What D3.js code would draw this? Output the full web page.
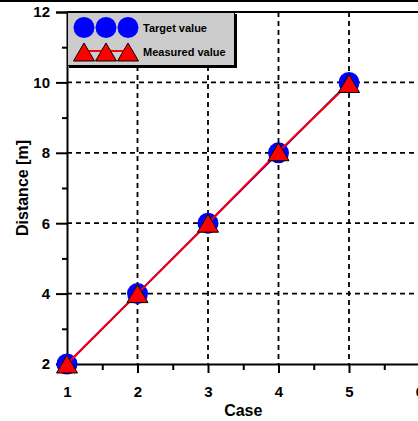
<!DOCTYPE html>
<html>
<head>
<meta charset="utf-8">
<script src="https://cdn.jsdelivr.net/npm/d3@7"></script>
<style>
  body { margin: 0; background: #fff; }
  svg { display: block; }
  text { font-family: "Liberation Sans", Arial, sans-serif; font-weight: bold; }
</style>
</head>
<body>
<div id="chart"></div>
<script>
const cases = [1, 2, 3, 4, 5];
const target = [2, 4, 6, 8, 10];
const measured = [2, 4, 6, 8.03, 9.97];
const xTicks = [1, 2, 3, 4, 5, 6];
const xMinor = [1.5, 2.5, 3.5, 4.5, 5.5];
const yTicks = [2, 4, 6, 8, 10, 12];
const yMinor = [3, 5, 7, 9, 11];
const legendItems = ['Target value', 'Measured value'];

const width = 418, height = 421;
const plot = { left: 67, top: 12, right: 419.5, bottom: 364 };

const svg = d3.select('#chart').append('svg')
    .attr('width', width)
    .attr('height', height);

const x = d3.scaleLinear().domain([1, 6]).range([plot.left, plot.right]);
const y = d3.scaleLinear().domain([2, 12]).range([plot.bottom, plot.top]);

// frame line at the very top
svg.append('line')
    .attr('x1', 0).attr('x2', width)
    .attr('y1', 1).attr('y2', 1)
    .attr('stroke', '#000').attr('stroke-width', 2);

// grid
const grid = svg.append('g')
    .attr('stroke', '#000')
    .attr('stroke-width', 1.8)
    .attr('stroke-dasharray', '5,4');
grid.selectAll('.vg').data(xTicks.slice(1, 5)).join('line')
    .attr('x1', d => x(d)).attr('x2', d => x(d))
    .attr('y1', plot.top).attr('y2', plot.bottom);
grid.selectAll('.hg').data(yTicks.slice(1, 5)).join('line')
    .attr('x1', plot.left).attr('x2', plot.right)
    .attr('y1', d => y(d)).attr('y2', d => y(d));

// top axis line
svg.append('line')
    .attr('x1', plot.left).attr('x2', width)
    .attr('y1', plot.top).attr('y2', plot.top)
    .attr('stroke', '#000').attr('stroke-width', 2);

// x axis
svg.append('g')
    .attr('transform', `translate(0,${plot.bottom})`)
    .call(d3.axisBottom(x).tickValues(xTicks).tickSize(9).tickPadding(13).tickFormat(d3.format('d')));
svg.append('g')
    .attr('transform', `translate(0,${plot.bottom})`)
    .call(d3.axisBottom(x).tickValues(xMinor).tickSize(6).tickFormat(''))
    .select('.domain').remove();

// y axis
svg.append('g')
    .attr('transform', `translate(${plot.left},0)`)
    .call(d3.axisLeft(y).tickValues(yTicks).tickSize(11).tickPadding(6).tickFormat(d3.format('d')));
svg.append('g')
    .attr('transform', `translate(${plot.left},0)`)
    .call(d3.axisLeft(y).tickValues(yMinor).tickSize(5).tickFormat(''))
    .select('.domain').remove();

svg.selectAll('.domain, .tick line')
    .attr('stroke', '#000').attr('stroke-width', 2);
svg.selectAll('.tick text')
    .attr('fill', '#000')
    .style('font-size', '15px');

// axis titles
svg.append('text')
    .attr('x', (plot.left + plot.right) / 2).attr('y', 416)
    .attr('text-anchor', 'middle')
    .style('font-size', '16px')
    .text('Case');
svg.append('text')
    .attr('transform', `translate(28,${(plot.top + plot.bottom) / 2}) rotate(-90)`)
    .attr('text-anchor', 'middle')
    .style('font-size', '16px')
    .text('Distance [m]');

// series
const line = d3.line().x(d => x(d[0])).y(d => y(d[1]));
const tri = 'M0,-9L10.5,9L-10.5,9Z';
const tData = cases.map((c, i) => [c, target[i]]);
const mData = cases.map((c, i) => [c, measured[i]]);

svg.append('path').datum(tData)
    .attr('d', line).attr('fill', 'none')
    .attr('stroke', '#0000ff').attr('stroke-width', 2);
svg.selectAll('.tc').data(tData).join('circle')
    .attr('cx', d => x(d[0])).attr('cy', d => y(d[1]))
    .attr('r', 10.5).attr('fill', '#0000ff');

svg.append('path').datum(mData)
    .attr('d', line).attr('fill', 'none')
    .attr('stroke', '#ff0000').attr('stroke-width', 2);
svg.selectAll('.mt').data(mData).join('path')
    .attr('d', tri)
    .attr('transform', d => `translate(${x(d[0])},${y(d[1])})`)
    .attr('fill', '#ff0000').attr('stroke', '#000').attr('stroke-width', 1);

// legend
const lg = svg.append('g');
lg.append('rect')
    .attr('x', 69).attr('y', 14).attr('width', 168).attr('height', 54)
    .attr('fill', '#000');
lg.append('rect')
    .attr('x', 67.5).attr('y', 12.5).attr('width', 167).attr('height', 53)
    .attr('fill', '#cccccc').attr('stroke', '#000').attr('stroke-width', 1);

const symX = [84, 106, 128];
lg.selectAll('.lc').data(symX).join('circle')
    .attr('cx', d => d).attr('cy', 27.5).attr('r', 10.5)
    .attr('fill', '#0000ff');
lg.append('line')
    .attr('x1', symX[0]).attr('x2', symX[2])
    .attr('y1', 51).attr('y2', 51)
    .attr('stroke', '#ff0000').attr('stroke-width', 2);
lg.selectAll('.lt').data(symX).join('path')
    .attr('d', tri)
    .attr('transform', d => `translate(${d},52)`)
    .attr('fill', '#ff0000').attr('stroke', '#000').attr('stroke-width', 1);
lg.selectAll('.ltx').data(legendItems).join('text')
    .attr('x', 143).attr('y', (d, i) => 32 + i * 24)
    .style('font-size', '11px')
    .text(d => d);
</script>
</body>
</html>
